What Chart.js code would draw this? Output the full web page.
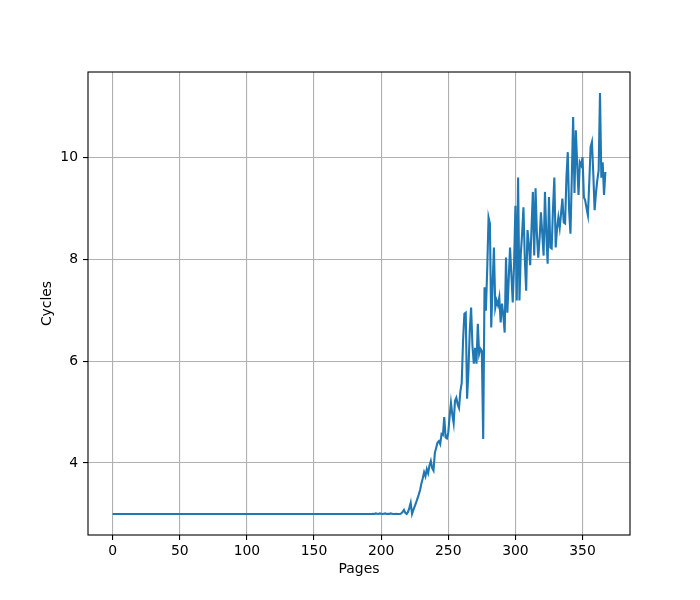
<!DOCTYPE html>
<html>
<head>
<meta charset="utf-8">
<script src="https://cdn.jsdelivr.net/npm/chart.js@4"></script>
<style>
html,body{margin:0;padding:0;background:#fff;}
canvas{display:block;}
</style>
</head>
<body>
<canvas id="c" width="700" height="600"></canvas>
<script>
const cycles = [
3,3,3,3,3,3,3,3,3,3, 3,3,3,3,3,3,3,3,3,3,
3,3,3,3,3,3,3,3,3,3, 3,3,3,3,3,3,3,3,3,3,
3,3,3,3,3,3,3,3,3,3, 3,3,3,3,3,3,3,3,3,3,
3,3,3,3,3,3,3,3,3,3, 3,3,3,3,3,3,3,3,3,3,
3,3,3,3,3,3,3,3,3,3, 3,3,3,3,3,3,3,3,3,3,
3,3,3,3,3,3,3,3,3,3, 3,3,3,3,3,3,3,3,3,3,
3,3,3,3,3,3,3,3,3,3, 3,3,3,3,3,3,3,3,3,3,
3,3,3,3,3,3,3,3,3,3, 3,3,3,3,3,3,3,3,3,3,
3,3,3,3,3,3,3,3,3,3, 3,3,3,3,3,3,3,3,3,3,
3,3,3,3,3,3,3,3,3,3, 3,3,3,3,
3.005,3.0,3.01,3.005,3.0,3.01,3.005,3.0,3.005,3.01,3.0,3.005,3.0,3.01,3.005,3.0,3.0,3.005,3.0,3.0,3.0,3.01,
3.04,3.08,3.02,3.0,3.04,3.12,3.22,3.0,3.08,3.15,
3.22,3.3,3.38,3.47,3.6,3.7,3.82,3.74,3.88,3.8,
3.95,4.04,3.9,3.85,4.2,4.3,4.4,4.43,4.37,4.57,
4.55,4.9,4.5,4.48,4.6,4.92,5.18,4.95,4.78,5.22,
5.28,5.15,5.08,5.4,5.57,6.4,6.93,6.95,5.26,5.8,
6.6,7.05,6.3,5.95,6.26,5.95,6.73,6.14,6.24,6.2,
4.47,7.45,6.99,7.8,8.82,8.7,6.66,7.5,8.23,7.05,
7.19,7.1,7.25,6.76,7.13,6.9,6.56,8.03,6.95,7.6,
8.23,7.7,7.15,7.9,9.05,7.19,9.6,7.19,8.1,8.5,
9.02,8.0,7.38,8.57,8.3,7.88,8.6,9.32,8.07,9.39,
8.5,8.03,8.4,8.92,8.5,8.07,9.32,8.5,7.91,9.22,
8.23,8.21,9.0,9.6,8.23,8.6,8.82,8.62,8.9,9.19,
8.72,8.7,9.6,10.1,8.96,8.5,9.6,10.79,9.3,10.53,
9.88,9.26,9.9,9.84,10.0,9.22,9.15,9.0,8.86,9.5,
10.2,10.3,9.68,8.96,9.3,9.55,9.74,11.26,9.6,9.9,
9.26,9.71
];
const pages = cycles.map((_, i) => i);
const xTicks = [0, 50, 100, 150, 200, 250, 300, 350];
const yTicks = [4, 6, 8, 10];

const xMinD = Math.min(...pages), xMaxD = Math.max(...pages);
const yMinD = Math.min(...cycles), yMaxD = Math.max(...cycles);
const xm = (xMaxD - xMinD) * 0.05, ym = (yMaxD - yMinD) * 0.05;

const FONT = {family: 'DejaVu Sans', size: 13.9};

const boxPlugin = {
  id: 'box',
  afterDatasetsDraw(chart) {
    const {ctx, chartArea: a} = chart;
    ctx.save();
    ctx.strokeStyle = '#000';
    ctx.lineWidth = 1.1;
    ctx.strokeRect(a.left, a.top, a.right - a.left, a.bottom - a.top);
    ctx.restore();
  }
};

new Chart(document.getElementById('c'), {
  type: 'line',
  data: {
    datasets: [{
      data: pages.map((p, i) => ({x: p, y: cycles[i]})),
      borderColor: '#1f77b4',
      borderWidth: 2.1,
      pointRadius: 0,
      tension: 0,
      fill: false
    }]
  },
  options: {
    responsive: false,
    animation: false,
    devicePixelRatio: 1,
    layout: {padding: {left: 0, top: 72, right: 70, bottom: 0}},
    plugins: {legend: {display: false}, tooltip: {enabled: false}},
    scales: {
      x: {
        type: 'linear',
        min: xMinD - xm,
        max: xMaxD + xm,
        afterBuildTicks: s => { s.ticks = xTicks.map(v => ({value: v})); },
        afterFit: s => { s.height = 65; },
        grid: {color: '#b0b0b0', lineWidth: 1.1, tickColor: '#000', tickLength: 5, tickWidth: 1.1},
        border: {display: false},
        ticks: {color: '#000', font: FONT, padding: 3, maxRotation: 0, autoSkip: false},
        title: {display: true, text: 'Pages', color: '#000', font: FONT, padding: {top: 0, bottom: 22.7}}
      },
      y: {
        type: 'linear',
        min: yMinD - ym,
        max: yMaxD + ym,
        afterBuildTicks: s => { s.ticks = yTicks.map(v => ({value: v})); },
        afterFit: s => { s.width = 88; },
        grid: {color: '#b0b0b0', lineWidth: 1.1, tickColor: '#000', tickLength: 5, tickWidth: 1.1},
        border: {display: false},
        ticks: {color: '#000', font: FONT, padding: 5, autoSkip: false},
        title: {display: true, text: 'Cycles', color: '#000', font: FONT, padding: {top: 38.7, bottom: 0}}
      }
    }
  },
  plugins: [boxPlugin]
});
</script>
</body>
</html>
